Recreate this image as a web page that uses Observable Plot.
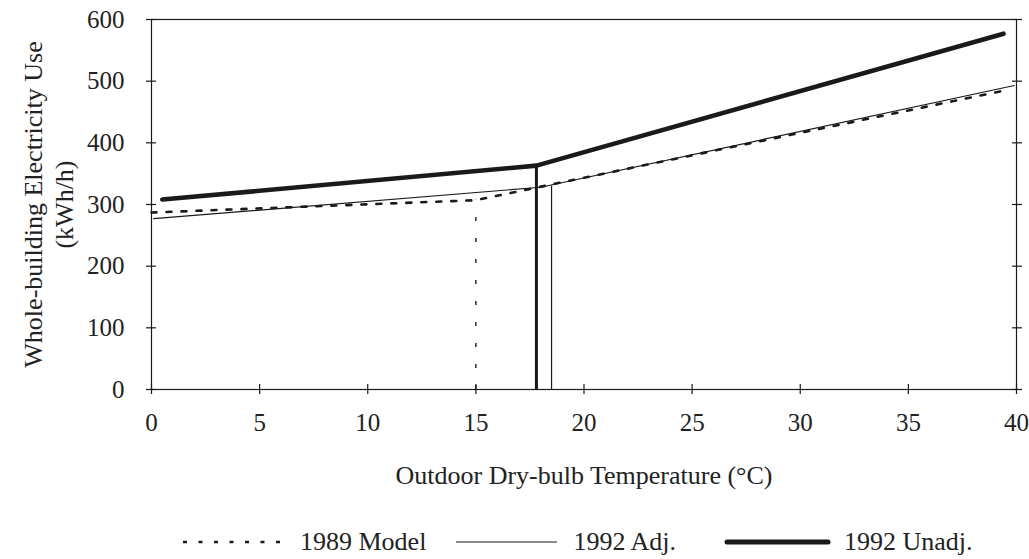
<!DOCTYPE html>
<html>
<head>
<meta charset="utf-8">
<script src="https://cdn.jsdelivr.net/npm/d3@7"></script>
<script src="https://cdn.jsdelivr.net/npm/@observablehq/plot@0.6"></script>
<style>
  html, body { margin: 0; padding: 0; background: white; }
  #wrap { width: 1029px; height: 559px; overflow: hidden; font-family: "Liberation Serif", "DejaVu Serif", serif; color: #222; }
  #legend { height: 54px; box-sizing: border-box; padding-top: 20px; display: flex; align-items: center; padding-left: 180px; font-size: 26px; }
  #legend svg { display: block; }
  .lab { margin-left: 13px; white-space: nowrap; }
</style>
</head>
<body>
<div id="wrap">
  <div id="chart"></div>
  <div id="legend"></div>
</div>
<script>
// Series names
const seriesNames = ["1989 Model", "1992 Adj.", "1992 Unadj."];

// 1989 Model (dotted)
const temp1989 = [0.0, 15.0, 39.6];
const use1989 = [287, 307, 486];

// 1992 Adj. (thin)
const tempAdj = [0.1, 18.0, 39.9];
const useAdj = [277, 328, 493];

// 1992 Unadj. (thick)
const tempUnadj = [0.5, 17.8, 39.4];
const useUnadj = [308, 363, 577];

// change-point verticals (temperature, height)
const cpTemp = [15.0, 18.5, 17.8];
const cpUse = [307, 330, 363];

// axis ticks
const xTicks = [0, 5, 10, 15, 20, 25, 30, 35, 40];
const yTicks = [0, 100, 200, 300, 400, 500, 600];

const toRows = (xs, ys) => xs.map((x, i) => ({x, y: ys[i]}));
const rows1989 = toRows(temp1989, use1989);
const rowsAdj = toRows(tempAdj, useAdj);
const rowsUnadj = toRows(tempUnadj, useUnadj);
const cpRows = cpTemp.map((x, i) => ({x, y: cpUse[i], s: seriesNames[i]}));

const ink = "#1a1a1a";

const chart = Plot.plot({
  width: 1029,
  height: 505,
  marginLeft: 151,
  marginRight: 13,
  marginTop: 19,
  marginBottom: 116,
  style: {fontFamily: "'Liberation Serif', 'DejaVu Serif', serif", fontSize: "26px", color: "#222", background: "white"},
  x: {domain: [0, 40]},
  y: {domain: [0, 600]},
  marks: [
    Plot.frame({stroke: ink, strokeWidth: 1.2}),
    // crossing ticks
    Plot.axisX({anchor: "bottom", ticks: xTicks, tickSize: 10, dy: -5, fill: "none", stroke: ink, strokeWidth: 1.2}),
    Plot.axisY({anchor: "left", ticks: yTicks, tickSize: 10, dx: 5, fill: "none", stroke: ink, strokeWidth: 1.2}),
    Plot.axisY({anchor: "right", ticks: yTicks, tickSize: 10, dx: -5, fill: "none", stroke: ink, strokeWidth: 1.2}),
    // tick labels
    Plot.axisX({anchor: "bottom", ticks: xTicks, tickSize: 0, tickPadding: 24, label: null, fill: "#222", fontSize: 25}),
    Plot.axisY({anchor: "left", ticks: yTicks, tickSize: 0, tickPadding: 27, label: null, fill: "#222", fontSize: 25}),
    // axis titles
    Plot.text(["Outdoor Dry-bulb Temperature (°C)"], {frameAnchor: "bottom", dy: 86, lineAnchor: "middle", textAnchor: "middle", fill: "#222"}),
    Plot.text(["Whole-building Electricity Use\n(kWh/h)"], {frameAnchor: "left", rotate: -90, dx: -104, lineAnchor: "middle", textAnchor: "middle", lineHeight: 1.2, fill: "#222"}),
    // change-point verticals
    Plot.ruleX(cpRows.filter(d => d.s === "1989 Model"), {x: "x", y1: 0, y2: "y", stroke: ink, strokeWidth: 1.4, strokeDasharray: "4,17"}),
    Plot.ruleX(cpRows.filter(d => d.s === "1992 Adj."), {x: "x", y1: 0, y2: "y", stroke: ink, strokeWidth: 1.2}),
    Plot.ruleX(cpRows.filter(d => d.s === "1992 Unadj."), {x: "x", y1: 0, y2: "y", stroke: ink, strokeWidth: 3}),
    // series lines
    Plot.line(rowsAdj, {x: "x", y: "y", stroke: ink, strokeWidth: 1.2}),
    Plot.line(rows1989, {x: "x", y: "y", stroke: ink, strokeWidth: 2.6, strokeDasharray: "5,10"}),
    Plot.line(rowsUnadj, {x: "x", y: "y", stroke: ink, strokeWidth: 4.6, strokeLinecap: "round"})
  ]
});
document.getElementById("chart").appendChild(chart);

// legend
const legend = document.getElementById("legend");
const styles = [
  {w: 2.6, dash: "4,11.5", cap: "butt"},
  {w: 1.2, dash: null, cap: "butt"},
  {w: 5, dash: null, cap: "round"}
];
const gaps = [27, 48, 0];
seriesNames.forEach((name, i) => {
  const ns = "http://www.w3.org/2000/svg";
  const svg = document.createElementNS(ns, "svg");
  svg.setAttribute("width", 107);
  svg.setAttribute("height", 12);
  const ln = document.createElementNS(ns, "line");
  ln.setAttribute("x1", 3); ln.setAttribute("x2", 104);
  ln.setAttribute("y1", 6); ln.setAttribute("y2", 6);
  ln.setAttribute("stroke", ink);
  ln.setAttribute("stroke-width", styles[i].w);
  ln.setAttribute("stroke-linecap", styles[i].cap);
  if (styles[i].dash) ln.setAttribute("stroke-dasharray", styles[i].dash);
  svg.appendChild(ln);
  legend.appendChild(svg);
  const span = document.createElement("span");
  span.className = "lab";
  span.style.marginRight = gaps[i] + "px";
  span.textContent = name;
  legend.appendChild(span);
});
</script>
</body>
</html>
